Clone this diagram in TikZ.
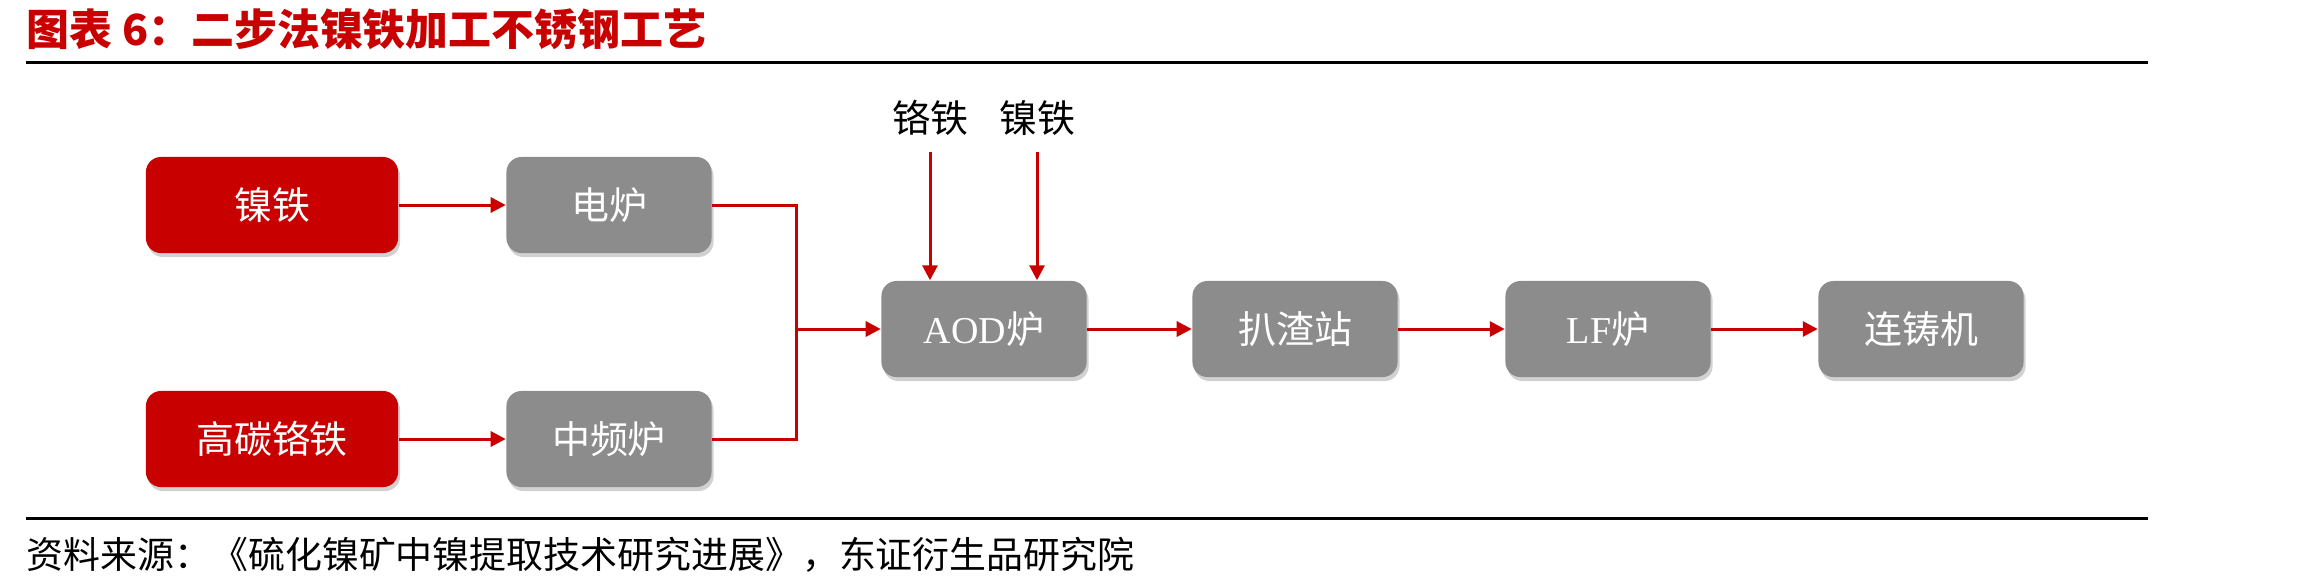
\documentclass[tikz,border=0pt]{standalone}
\usepackage{fontspec}
\setmainfont{Liberation Serif}
\newfontfamily\cjk{Noto Sans CJK SC}
\usetikzlibrary{arrows.meta,shadows}
\definecolor{boxred}{RGB}{200,0,0}
\definecolor{boxgray}{RGB}{140,140,140}

\begin{document}
\begin{tikzpicture}[x=0.01cm,y=-0.01cm,>={Triangle[length=0.15cm,width=0.15cm]},
  base/.style={rounded corners=0.15cm,minimum width=2.05cm,minimum height=0.96cm,
    text=white,font=\fontsize{10.8}{13}\selectfont\cjk,
    drop shadow={shadow xshift=0.02cm,shadow yshift=-0.04cm,opacity=0.3,fill=black!60}},
  redbox/.style={base,fill=boxred,minimum width=2.52cm},
  graybox/.style={base,fill=boxgray},
  flow/.style={draw=boxred,line width=0.03cm},
  lbl/.style={font=\fontsize{10.8}{13}\selectfont\cjk}]
\useasboundingbox (0,0) rectangle (2303,584);

% title and rules
\node[anchor=west,inner sep=0,text=boxred,font=\fontsize{12.2}{14}\selectfont\cjk\bfseries] (title) at (26,29) {图表 6：二步法镍铁加工不锈钢工艺};
\draw[line width=0.03cm] (26,62) -- (2148,62);
\draw[line width=0.03cm] (26,518) -- (2148,518);
\node[anchor=west,inner sep=0,font=\fontsize{10.5}{13}\selectfont\cjk] (src) at (26,555) {资料来源：《硫化镍矿中镍提取技术研究进展》，东证衍生品研究院};

% raw materials and melting
\node[redbox] (ni1) at (272,205) {镍铁};
\node[graybox] (eaf) at (609,205) {电炉};
\node[redbox] (hcfe) at (272,439) {高碳铬铁};
\node[graybox] (mff) at (609,439) {中频炉};

% main line
\node[graybox] (aod) at (984,329) {{\rmfamily AOD}炉};
\node[graybox] (slag) at (1295,329) {扒渣站};
\node[graybox] (lf) at (1608,329) {{\rmfamily LF}炉};
\node[graybox] (cc) at (1921,329) {连铸机};

\node[lbl] (cr) at (930,118) {铬铁};
\node[lbl] (ni2) at (1037,118) {镍铁};

\coordinate (merge) at (796,329);

\draw[flow,->] (ni1) -- (eaf);
\draw[flow,->] (hcfe) -- (mff);
\draw[flow] (eaf.east) -| (merge);
\draw[flow] (mff.east) -| (merge);
\draw[flow,->] (merge) -- (aod.west);
\draw[flow,->] ([yshift=-0.34cm]cr.center) -- (cr |- aod.north);
\draw[flow,->] ([yshift=-0.34cm]ni2.center) -- (ni2 |- aod.north);
\draw[flow,->] (aod) -- (slag);
\draw[flow,->] (slag) -- (lf);
\draw[flow,->] (lf) -- (cc);
\end{tikzpicture}
\end{document}
